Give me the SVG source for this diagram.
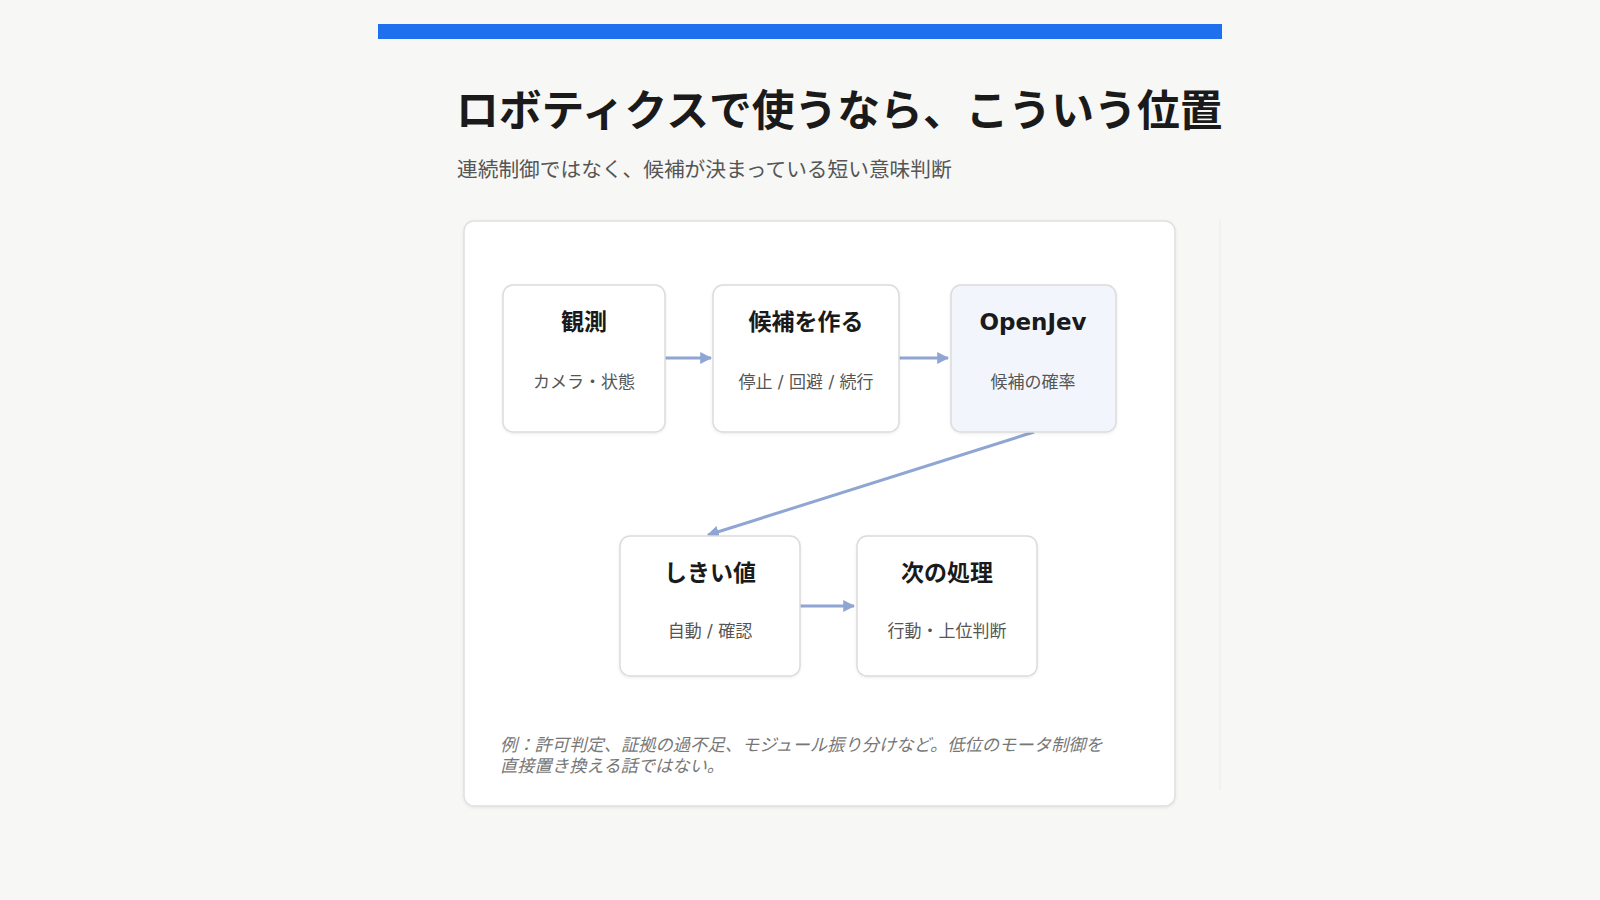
<svg xmlns="http://www.w3.org/2000/svg" width="1600" height="900" viewBox="0 0 1600 900">
<defs>
<style>
.ttl{font-family:"DejaVu Sans","Noto Sans CJK JP",sans-serif;font-weight:700;font-size:42.8px;fill:#1a1a1a}
.sub{font-family:"DejaVu Sans","Noto Sans CJK JP",sans-serif;font-size:20.7px;fill:#555}
.box{fill:#fff;stroke:#dcdcdc;stroke-width:1.5}
.hl{fill:#f2f6fc}
.nt{font-family:"DejaVu Sans","Noto Sans CJK JP",sans-serif;font-weight:700;font-size:23px;fill:#1a1a1a;text-anchor:middle}
.ns{font-family:"DejaVu Sans","Noto Sans CJK JP",sans-serif;font-size:17px;fill:#555;text-anchor:middle}
.note{font-family:"DejaVu Sans","Noto Sans CJK JP",sans-serif;font-size:17.3px;fill:#777;font-style:italic}
.edge{stroke:#8fa6d4;stroke-width:3;fill:none;marker-end:url(#ah)}
</style>
<marker id="ah" viewBox="0 0 10 10" refX="9" refY="5" markerWidth="4" markerHeight="4" orient="auto" markerUnits="strokeWidth">
<path d="M0,0 L10,5 L0,10 z" fill="#8fa6d4"/>
</marker>
<clipPath id="cl"><rect x="378" y="0" width="844" height="900"/></clipPath>
<filter id="sh" x="-5%" y="-5%" width="110%" height="110%">
<feDropShadow dx="0" dy="1" stdDeviation="1.5" flood-color="#000" flood-opacity="0.08"/>
</filter>
</defs>
<rect width="1600" height="900" fill="#f7f7f5"/>
<rect x="378" y="24" width="844" height="15" fill="#1f70ee"/>
<g clip-path="url(#cl)">
<text class="ttl" x="456" y="126">ロボティクスで使うなら、こういう位置づけ</text>
</g>
<text class="sub" x="457" y="177">連続制御ではなく、候補が決まっている短い意味判断</text>
<line x1="1220" y1="219" x2="1220" y2="790" stroke="#ececea" stroke-width="1"/>
<rect x="464" y="221" width="711" height="585" rx="10" fill="#fff" stroke="#e0e0e0" stroke-width="1.5" filter="url(#sh)"/>
<g id="connectors">
<line class="edge" x1="665" y1="358" x2="711" y2="358"/>
<line class="edge" x1="899" y1="358" x2="948" y2="358"/>
<line class="edge" x1="1034" y1="432" x2="708" y2="535"/>
<line class="edge" x1="800" y1="606" x2="854" y2="606"/>
</g>
<g id="n1">
<rect class="box" x="503" y="285" width="162" height="147" rx="10" filter="url(#sh)"/>
<text class="nt" x="584" y="330">観測</text>
<text class="ns" x="584" y="388">カメラ・状態</text>
</g>
<g id="n2">
<rect class="box" x="713" y="285" width="186" height="147" rx="10" filter="url(#sh)"/>
<text class="nt" x="806" y="330">候補を作る</text>
<text class="ns" x="806" y="388">停止 / 回避 / 続行</text>
</g>
<g id="n3">
<rect class="box hl" x="951" y="285" width="165" height="147" rx="10" filter="url(#sh)"/>
<text class="nt" x="1033" y="330">OpenJev</text>
<text class="ns" x="1033" y="388">候補の確率</text>
</g>
<g id="n4">
<rect class="box" x="620" y="536" width="180" height="140" rx="10" filter="url(#sh)"/>
<text class="nt" x="710" y="581">しきい値</text>
<text class="ns" x="710" y="637">自動 / 確認</text>
</g>
<g id="n5">
<rect class="box" x="857" y="536" width="180" height="140" rx="10" filter="url(#sh)"/>
<text class="nt" x="947" y="581">次の処理</text>
<text class="ns" x="947" y="637">行動・上位判断</text>
</g>
<text class="note" x="500" y="751">例：許可判定、証拠の過不足、モジュール振り分けなど。低位のモータ制御を</text>
<text class="note" x="500" y="772">直接置き換える話ではない。</text>
</svg>
